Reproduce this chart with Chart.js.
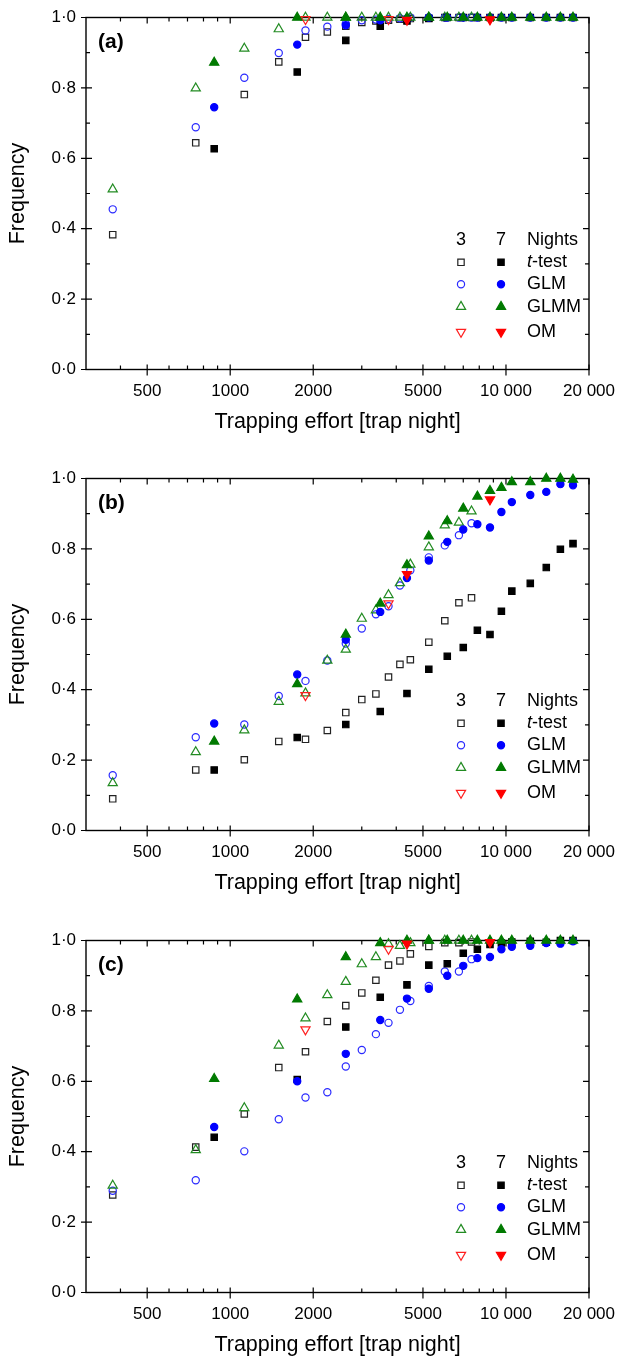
<!DOCTYPE html>
<html>
<head>
<meta charset="utf-8">
<title>Frequency vs trapping effort</title>
<script src="https://cdn.jsdelivr.net/npm/chart.js@4.4.1/dist/chart.umd.min.js"></script>
<style>
    html, body { margin: 0; padding: 0; background: #fff; }
    #page { position: relative; width: 617px; height: 1359px; overflow: hidden; }
    .panel { position: absolute; left: 0; width: 617px; height: 436px; }
    .panel canvas { display: block; }
</style>
</head>
<body>
<div id="page">
    <div class="panel" style="top:0px"><canvas id="chartA" width="617" height="436"></canvas></div>
    <div class="panel" style="top:461px"><canvas id="chartB" width="617" height="436"></canvas></div>
    <div class="panel" style="top:923px"><canvas id="chartC" width="617" height="436"></canvas></div>
</div>
<script>
// Trapping effort (x) for 3-night and 7-night designs
const EFFORT_3 = [375, 750, 1125, 1500, 1875, 2250, 2625, 3000, 3375, 3750, 4125, 4500, 5250, 6000, 6750, 7500];
const EFFORT_7 = [875, 1750, 2625, 3500, 4375, 5250, 6125, 7000, 7875, 8750, 9625, 10500, 12250, 14000, 15750, 17500];
const EFFORT_OM_3 = [1875, 3750];
const EFFORT_OM_7 = [4375, 8750];

// Axis ticks
const X_TICK_VALUES = [500, 1000, 2000, 5000, 10000, 20000];
const X_TICK_TEXT = ['500', '1000', '2000', '5000', '10 000', '20 000'];
const X_MINOR = [400, 600, 700, 800, 900, 3000, 4000, 6000, 7000, 8000, 9000];
const Y_TICK_VALUES = [0, 0.2, 0.4, 0.6, 0.8, 1.0];
const Y_TICK_TEXT = ['0·0', '0·2', '0·4', '0·6', '0·8', '1·0'];
const Y_MINOR = [0.1, 0.3, 0.5, 0.7, 0.9];

// Legend
const LEGEND_NIGHTS = ['3', '7', 'Nights'];
const LEGEND_LABELS = ['t-test', 'GLM', 'GLMM', 'OM'];

// Panel (a)
const A_TTEST_3 = [0.383, 0.644, 0.781, 0.874, 0.944, 0.959, 0.975, 0.986, 0.990, 0.992, 0.995, 0.997, 0.998, 1.0, 1.0, 1.0];
const A_TTEST_7 = [0.627, 0.845, 0.935, 0.975, 0.990, 0.997, 1.0, 1.0, 1.0, 1.0, 1.0, 1.0, 1.0, 1.0, 1.0, 1.0];
const A_GLM_3 = [0.455, 0.688, 0.829, 0.899, 0.963, 0.974, 0.982, 0.992, 0.994, 0.996, 0.998, 1.0, 1.0, 1.0, 1.0, 1.0];
const A_GLM_7 = [0.745, 0.923, 0.978, 0.992, 0.997, 1.0, 1.0, 1.0, 1.0, 1.0, 1.0, 1.0, 1.0, 1.0, 1.0, 1.0];
const A_GLMM_3 = [0.512, 0.799, 0.912, 0.967, 1.0, 1.0, 1.0, 1.0, 1.0, 1.0, 1.0, 1.0, 1.0, 1.0, 1.0, 1.0];
const A_GLMM_7 = [0.872, 1.0, 1.0, 1.0, 1.0, 1.0, 1.0, 1.0, 1.0, 1.0, 1.0, 1.0, 1.0, 1.0, 1.0, 1.0];
const A_OM_3 = [0.995, 0.995];
const A_OM_7 = [0.993, 0.994];

// Panel (b)
const B_TTEST_3 = [0.090, 0.172, 0.201, 0.253, 0.259, 0.284, 0.335, 0.372, 0.388, 0.436, 0.472, 0.485, 0.535, 0.596, 0.647, 0.661];
const B_TTEST_7 = [0.172, 0.264, 0.301, 0.338, 0.389, 0.458, 0.495, 0.520, 0.569, 0.557, 0.623, 0.680, 0.702, 0.747, 0.799, 0.815];
const B_GLM_3 = [0.157, 0.265, 0.301, 0.382, 0.425, 0.483, 0.531, 0.574, 0.614, 0.637, 0.696, 0.739, 0.776, 0.810, 0.839, 0.873];
const B_GLM_7 = [0.304, 0.443, 0.542, 0.621, 0.717, 0.767, 0.820, 0.855, 0.870, 0.861, 0.905, 0.933, 0.953, 0.962, 0.984, 0.981];
const B_GLMM_3 = [0.135, 0.223, 0.285, 0.366, 0.390, 0.483, 0.514, 0.602, 0.626, 0.669, 0.703, 0.756, 0.805, 0.867, 0.875, 0.907];
const B_GLMM_7 = [0.253, 0.416, 0.557, 0.645, 0.754, 0.836, 0.879, 0.915, 0.949, 0.965, 0.974, 0.990, 0.990, 1.0, 1.0, 0.997];
const B_OM_3 = [0.384, 0.645];
const B_OM_7 = [0.728, 0.940];

// Panel (c)
const C_TTEST_3 = [0.277, 0.413, 0.507, 0.639, 0.684, 0.770, 0.815, 0.851, 0.887, 0.930, 0.942, 0.962, 0.983, 0.994, 0.994, 0.996];
const C_TTEST_7 = [0.441, 0.605, 0.754, 0.839, 0.874, 0.930, 0.934, 0.964, 0.975, 0.989, 0.993, 0.996, 0.998, 0.995, 1.0, 1.0];
const C_GLM_3 = [0.289, 0.319, 0.401, 0.492, 0.554, 0.569, 0.642, 0.689, 0.734, 0.766, 0.803, 0.828, 0.871, 0.912, 0.912, 0.947];
const C_GLM_7 = [0.470, 0.600, 0.678, 0.774, 0.835, 0.863, 0.900, 0.928, 0.950, 0.953, 0.975, 0.982, 0.985, 0.993, 0.991, 0.998];
const C_GLMM_3 = [0.304, 0.405, 0.524, 0.702, 0.779, 0.845, 0.883, 0.933, 0.953, 0.990, 0.985, 0.993, 1.0, 1.0, 1.0, 1.0];
const C_GLMM_7 = [0.607, 0.833, 0.953, 0.993, 1.0, 1.0, 1.0, 1.0, 1.0, 1.0, 1.0, 1.0, 1.0, 1.0, 1.0, 1.0];
const C_OM_3 = [0.747, 0.976];
const C_OM_7 = [0.991, 0.995];

const FONT = '"Liberation Sans", Arial, Helvetica, sans-serif';

// Marker look for each method (open = 3 nights, filled = 7 nights)
const METHOD_STYLES = [
    { color: '#000000', openColor: '#222222', pointStyle: 'rect', radius: 4.5, rotation: 0 },
    { color: '#0000ff', openColor: '#2a2aff', pointStyle: 'circle', radius: 3.6, rotation: 0 },
    { color: '#007a00', openColor: '#228b22', pointStyle: 'triangle', radius: 5.3, rotation: 0 },
    { color: '#ff0000', openColor: '#ff2020', pointStyle: 'triangle', radius: 5.3, rotation: 180 }
];

function toPoints(xs, ys) {
    return xs.map((x, i) => ({ x: x, y: ys[i] }));
}

function markerDataset(styleIndex, filled, xs, ys, order) {
    const st = METHOD_STYLES[styleIndex];
    return {
        data: toPoints(xs, ys),
        showLine: false,
        clip: false,
        order: order,
        pointStyle: st.pointStyle,
        pointRotation: st.rotation,
        pointRadius: st.radius,
        pointHoverRadius: st.radius,
        borderWidth: 1.2,
        pointBorderWidth: 1.2,
        pointBorderColor: filled ? st.color : st.openColor,
        pointBackgroundColor: filled ? st.color : 'rgba(0,0,0,0)'
    };
}

function sameValue(a, b) {
    return Math.abs(a - b) < 1e-9 * Math.max(1, Math.abs(b));
}

// Frame with mirrored ticks (drawn under the markers)
const framePlugin = {
    id: 'frame',
    beforeDatasetsDraw(chart) {
        const ctx = chart.ctx;
        const a = chart.chartArea;
        const xs = chart.scales.x;
        const ys = chart.scales.y;
        ctx.save();
        ctx.strokeStyle = '#000';
        ctx.lineWidth = 1.4;
        ctx.strokeRect(a.left, a.top, a.right - a.left, a.bottom - a.top);
        ctx.lineWidth = 1.2;
        ctx.beginPath();
        X_TICK_VALUES.forEach(v => {
            const px = xs.getPixelForValue(v);
            ctx.moveTo(px, a.bottom - 5); ctx.lineTo(px, a.bottom + 6);
            ctx.moveTo(px, a.top); ctx.lineTo(px, a.top + 6);
        });
        X_MINOR.forEach(v => {
            const px = xs.getPixelForValue(v);
            ctx.moveTo(px, a.bottom); ctx.lineTo(px, a.bottom - 4);
            ctx.moveTo(px, a.top); ctx.lineTo(px, a.top + 4);
        });
        Y_TICK_VALUES.forEach(v => {
            const py = ys.getPixelForValue(v);
            ctx.moveTo(a.left - 5, py); ctx.lineTo(a.left + 6, py);
            ctx.moveTo(a.right, py); ctx.lineTo(a.right - 6, py);
        });
        Y_MINOR.forEach(v => {
            const py = ys.getPixelForValue(v);
            ctx.moveTo(a.left, py); ctx.lineTo(a.left + 4, py);
            ctx.moveTo(a.right, py); ctx.lineTo(a.right - 4, py);
        });
        ctx.stroke();
        ctx.restore();
    },
    afterDraw(chart, args, opts) {
        const ctx = chart.ctx;
        const a = chart.chartArea;
        ctx.save();
        // Panel letter
        ctx.fillStyle = '#000';
        ctx.font = 'bold 21px ' + FONT;
        ctx.textAlign = 'left';
        ctx.textBaseline = 'middle';
        ctx.fillText(opts.label, a.left + 12, a.top + 25);

        // Legend: open (3 nights) and filled (7 nights) columns
        const xOpen = a.right - 128;
        const xFilled = a.right - 88;
        const xText = a.right - 62;
        const rows = [222.5, 244.8, 266.8, 289.2, 314.5].map(v => a.top + v);
        ctx.font = '18px ' + FONT;
        ctx.textAlign = 'center';
        ctx.fillText(LEGEND_NIGHTS[0], xOpen, rows[0]);
        ctx.fillText(LEGEND_NIGHTS[1], xFilled, rows[0]);
        ctx.textAlign = 'left';
        ctx.fillText(LEGEND_NIGHTS[2], xText, rows[0]);

        LEGEND_LABELS.forEach((label, i) => {
            const st = METHOD_STYLES[i];
            const y = rows[i + 1];
            const opt = { pointStyle: st.pointStyle, radius: st.radius, rotation: st.rotation, borderWidth: 1.2 };
            ctx.lineWidth = 1.2;
            ctx.strokeStyle = st.openColor;
            ctx.fillStyle = 'rgba(0,0,0,0)';
            Chart.helpers.drawPoint(ctx, opt, xOpen, y);
            ctx.strokeStyle = st.color;
            ctx.fillStyle = st.color;
            Chart.helpers.drawPoint(ctx, opt, xFilled, y);

            ctx.fillStyle = '#000';
            if (label.startsWith('t-')) {
                ctx.font = 'italic 18px ' + FONT;
                ctx.fillText('t', xText, y);
                const w = ctx.measureText('t').width;
                ctx.font = '18px ' + FONT;
                ctx.fillText(label.slice(1), xText + w, y);
            } else {
                ctx.font = '18px ' + FONT;
                ctx.fillText(label, xText, y);
            }
        });
        ctx.restore();
    }
};

function makeChart(canvasId, label, s) {
    const datasets = [
        markerDataset(3, true, EFFORT_OM_7, s.om7, 0),
        markerDataset(2, true, EFFORT_7, s.glmm7, 1),
        markerDataset(1, true, EFFORT_7, s.glm7, 2),
        markerDataset(0, true, EFFORT_7, s.ttest7, 3),
        markerDataset(3, false, EFFORT_OM_3, s.om3, 4),
        markerDataset(2, false, EFFORT_3, s.glmm3, 5),
        markerDataset(1, false, EFFORT_3, s.glm3, 6),
        markerDataset(0, false, EFFORT_3, s.ttest3, 7)
    ];

    return new Chart(document.getElementById(canvasId), {
        type: 'scatter',
        data: { datasets: datasets },
        options: {
            responsive: false,
            animation: false,
            devicePixelRatio: 1,
            layout: { padding: { top: 17.5, right: 28, left: 0, bottom: 0 } },
            plugins: {
                legend: { display: false },
                tooltip: { enabled: false },
                frame: { label: label }
            },
            scales: {
                x: {
                    type: 'logarithmic',
                    min: 300,
                    max: 20000,
                    // tick marks are drawn by the frame plugin; tickLength only spaces the labels
                    grid: { display: false, drawTicks: true, tickLength: 12 },
                    border: { display: false },
                    afterBuildTicks: scale => {
                        scale.ticks = X_TICK_VALUES.map(v => ({ value: v }));
                    },
                    afterFit: scale => { scale.height = 66.5; },
                    ticks: {
                        autoSkip: false,
                        maxRotation: 0,
                        minRotation: 0,
                        padding: 0,
                        color: '#000',
                        font: { family: FONT, size: 17 },
                        callback: value => {
                            const i = X_TICK_VALUES.findIndex(v => sameValue(v, value));
                            return i >= 0 ? X_TICK_TEXT[i] : '';
                        }
                    },
                    title: {
                        display: true,
                        text: 'Trapping effort [trap night]',
                        color: '#000',
                        font: { family: FONT, size: 21.5 },
                        padding: { top: 0, bottom: 1 }
                    }
                },
                y: {
                    min: 0,
                    max: 1,
                    grid: { display: false, drawTicks: true, tickLength: 10 },
                    border: { display: false },
                    afterBuildTicks: scale => {
                        scale.ticks = Y_TICK_VALUES.map(v => ({ value: v }));
                    },
                    afterFit: scale => { scale.width = 86; },
                    ticks: {
                        padding: 0,
                        color: '#000',
                        font: { family: FONT, size: 17 },
                        callback: value => {
                            const i = Y_TICK_VALUES.findIndex(v => sameValue(v, value));
                            return i >= 0 ? Y_TICK_TEXT[i] : '';
                        }
                    },
                    title: {
                        display: true,
                        text: 'Frequency',
                        color: '#000',
                        font: { family: FONT, size: 21.5 },
                        padding: { top: 5, bottom: 0 }
                    }
                }
            }
        },
        plugins: [framePlugin]
    });
}

makeChart('chartA', '(a)', {
    ttest3: A_TTEST_3, ttest7: A_TTEST_7, glm3: A_GLM_3, glm7: A_GLM_7,
    glmm3: A_GLMM_3, glmm7: A_GLMM_7, om3: A_OM_3, om7: A_OM_7
});
makeChart('chartB', '(b)', {
    ttest3: B_TTEST_3, ttest7: B_TTEST_7, glm3: B_GLM_3, glm7: B_GLM_7,
    glmm3: B_GLMM_3, glmm7: B_GLMM_7, om3: B_OM_3, om7: B_OM_7
});
makeChart('chartC', '(c)', {
    ttest3: C_TTEST_3, ttest7: C_TTEST_7, glm3: C_GLM_3, glm7: C_GLM_7,
    glmm3: C_GLMM_3, glmm7: C_GLMM_7, om3: C_OM_3, om7: C_OM_7
});
</script>
</body>
</html>
